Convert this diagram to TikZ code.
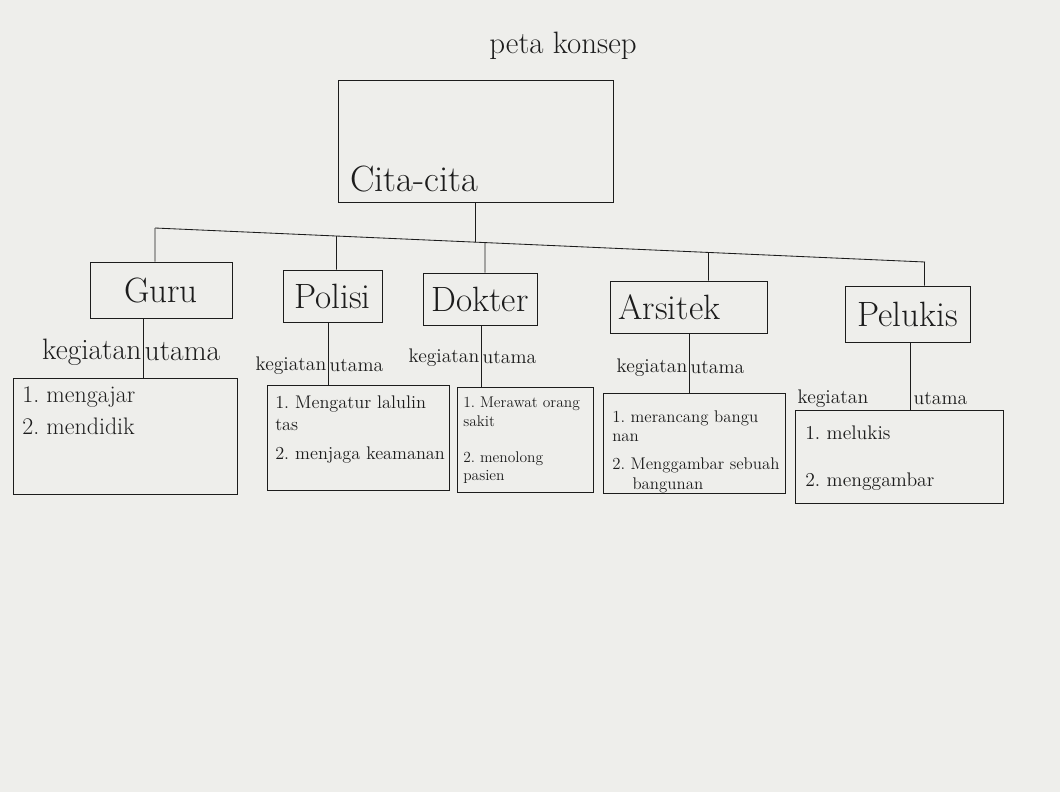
\documentclass[tikz,border=0pt]{standalone}
\usetikzlibrary{calc}
\definecolor{paper}{HTML}{EEEEEB}
\definecolor{ink}{HTML}{1C1C1C}
\frenchspacing
\begin{document}
\begin{tikzpicture}[x=0.025cm,y=-0.025cm,
  every node/.style={text=ink},
  frame/.style={draw=ink,line width=0.6pt,inner sep=0pt},
  link/.style={draw=ink,line width=0.6pt},
  joblabel/.style={font=\fontsize{25}{28}\selectfont},
  note/.style={inner sep=0pt,align=left,anchor=north west},
  keg/.style={inner sep=1pt,font=\fontsize{14}{16}\selectfont}]
\fill[paper] (0,0) rectangle (1060,792);
\useasboundingbox (0,0) rectangle (1060,792);

% title and root box
\node (title) at (563,46) {\fontsize{22}{26}\selectfont peta konsep};
\node[frame,minimum width=6.875cm,minimum height=3.05cm] (root) at (475.5,141) {};
\node[anchor=south west,inner sep=0pt] (roottext) at (350,192) {\fontsize{26}{30}\selectfont Cita-cita};

% branching bar
\coordinate (barL) at (155,228);
\coordinate (barR) at (925,262);
\draw[link] (barL) -- (barR);
\draw[link] (root.south) -- (intersection of barL--barR and root.north--root.south);

% professions
\node[frame,joblabel,minimum width=3.55cm,minimum height=1.4cm] (guru) at (161,290) {Guru};
\node[frame,joblabel,minimum width=2.475cm,minimum height=1.3cm] (polisi) at (332.5,296) {Polisi};
\node[frame,joblabel,minimum width=2.85cm,minimum height=1.3cm] (dokter) at (480,299) {Dokter};
\node[frame,joblabel,minimum width=3.925cm,minimum height=1.3cm,
      text width=3.5cm,align=left] (arsitek) at (688.5,307) {Arsitek};
\node[frame,joblabel,minimum width=3.125cm,minimum height=1.4cm] (pelukis) at (907.5,314) {Pelukis};

\foreach \n/\dx in {guru/-6,polisi/4,dokter/5,arsitek/20,pelukis/17}{
  \draw[link] ($(\n.north)+(\dx,0)$) --
    (intersection of barL--barR and {$(\n.north)+(\dx,0)$}--{$(\n.south)+(\dx,0)$});
}

% activity boxes
\node[frame,minimum width=5.6cm,minimum height=2.9cm] (guruAct) at (125,436) {};
\node[frame,minimum width=4.55cm,minimum height=2.625cm] (polisiAct) at (358,437.5) {};
\node[frame,minimum width=3.4cm,minimum height=2.625cm] (dokterAct) at (525,439.5) {};
\node[frame,minimum width=4.55cm,minimum height=2.5cm] (arsitekAct) at (694,443) {};
\node[frame,minimum width=5.2cm,minimum height=2.325cm] (pelukisAct) at (899,456.5) {};

% "kegiatan utama" links
\coordinate (k1) at (143,352);
\coordinate (k2) at (328,366);
\coordinate (k3) at (481,358);
\coordinate (k4) at (689,368);
\coordinate (k5) at (910,399);

\node[keg,anchor=east,font=\fontsize{21}{24}\selectfont] (k1a) at (k1) {kegiatan};
\node[keg,anchor=west,font=\fontsize{21}{24}\selectfont] (k1b) at (k1) {utama};
\node[keg,anchor=east] (k2a) at (k2) {kegiatan};
\node[keg,anchor=west] (k2b) at (k2) {utama};
\node[keg,anchor=east] (k3a) at (k3) {kegiatan};
\node[keg,anchor=west] (k3b) at (k3) {utama};
\node[keg,anchor=east] (k4a) at (k4) {kegiatan};
\node[keg,anchor=west] (k4b) at (k4) {utama};
\node[keg,anchor=east] (k5a) at ($(k5)+(-40,0)$) {kegiatan};
\node[keg,anchor=west] (k5b) at ($(k5)+(2,0)$) {utama};

\draw[link] (guru.south -| k1) -- (guruAct.north -| k1);
\draw[link] (polisi.south -| k2) -- (polisiAct.north -| k2);
\draw[link] (dokter.south -| k3) -- (dokterAct.north -| k3);
\draw[link] (arsitek.south -| k4) -- (arsitekAct.north -| k4);
\draw[link] (pelukis.south -| k5) -- (pelukisAct.north -| k5);

% activity texts
\node[note,font=\fontsize{17}{21}\selectfont] (guruTxt) at (22,386)
  {1. mengajar\\[2pt]2. mendidik};
\node[note,font=\fontsize{13}{15}\selectfont] (polisiTxt) at (275,396)
  {1. Mengatur lalulin\\tas\\[6pt]2. menjaga keamanan};
\node[note,font=\fontsize{11}{13}\selectfont] (dokterTxt) at (463,397)
  {1. Merawat orang\\sakit\\[13pt]2. menolong\\pasien};
\node[note,font=\fontsize{12}{14}\selectfont] (arsitekTxt) at (612,410)
  {1. merancang bangu\\nan\\[6pt]2. Menggambar sebuah\\\hspace*{1.2em}bangunan};
\node[note,font=\fontsize{14}{17}\selectfont] (pelukisTxt) at (805,426)
  {1. melukis\\[16pt]2. menggambar};
\end{tikzpicture}
\end{document}
